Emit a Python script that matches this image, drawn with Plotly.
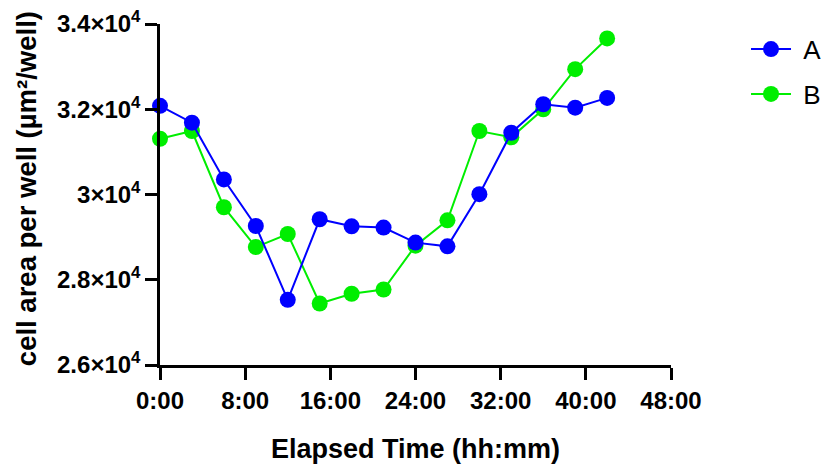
import plotly.graph_objects as go

hours = [0, 3, 6, 9, 12, 15, 18, 21, 24, 27, 30, 33, 36, 39, 42]
series_a = [32080, 31685, 30353, 29261, 27529, 29419, 29254, 29224, 28871, 28784, 30007, 31449, 32118, 32038, 32266]
series_b = [31308, 31489, 29701, 28767, 29073, 27442, 27671, 27772, 28800, 29395, 31489, 31341, 32000, 32941, 33661]

x_tickvals = [0, 8, 16, 24, 32, 40, 48]
x_ticktext = ["0:00", "8:00", "16:00", "24:00", "32:00", "40:00", "48:00"]
y_tickvals = [26000, 28000, 30000, 32000, 34000]
y_ticktext = ["2.6×10<sup>4</sup>", "2.8×10<sup>4</sup>", "3×10<sup>4</sup>", "3.2×10<sup>4</sup>", "3.4×10<sup>4</sup>"]
y_title = "cell area per well (µm²/well)"
x_title = "Elapsed Time (hh:mm)"

FONT = "Arial, 'Liberation Sans', sans-serif"
BLUE = "#0000ff"
GREEN = "#00ee00"

fig = go.Figure()
fig.add_trace(go.Scatter(x=hours, y=series_b, name="\u00a0B", mode="lines+markers",
                         line=dict(color=GREEN, width=2), marker=dict(color=GREEN, size=16),
                         legendrank=2, legendgroup="b", cliponaxis=False))
fig.add_trace(go.Scatter(x=hours, y=series_a, name="\u00a0A", mode="lines+markers",
                         line=dict(color=BLUE, width=2), marker=dict(color=BLUE, size=16),
                         legendrank=1, legendgroup="a", cliponaxis=False))

fig.update_layout(
    width=826, height=467,
    margin=dict(l=160, r=155, t=24, b=102, autoexpand=False),
    paper_bgcolor="white", plot_bgcolor="white",
    font=dict(family=FONT, color="black"),
    showlegend=True,
    legend=dict(x=1.1468, y=0.995, xanchor="left", yanchor="top",
                font=dict(family=FONT, size=26, color="black"),
                itemwidth=40, tracegroupgap=8, bgcolor="rgba(0,0,0,0)"),
    xaxis=dict(range=[0, 48], tickvals=x_tickvals, ticktext=x_ticktext, automargin=False,
               showgrid=False, zeroline=False, showline=True, linecolor="black", linewidth=2.5,
               ticks="outside", ticklen=12, tickwidth=2.5, tickcolor="black",
               tickfont=dict(family=FONT, size=24, weight="bold", color="black"),
               title=dict(text=x_title, standoff=27,
                          font=dict(family=FONT, size=27, weight="bold", color="black"))),
    yaxis=dict(range=[26000, 34000], tickvals=y_tickvals, ticktext=y_ticktext, automargin=False,
               showgrid=False, zeroline=False, showline=True, linecolor="black", linewidth=2.5,
               ticks="outside", ticklen=12, tickwidth=2.5, tickcolor="black",
               tickfont=dict(family=FONT, size=24, weight="bold", color="black")),
    annotations=[dict(text=y_title, textangle=-90, xref="paper", yref="paper",
                      x=-0.262, y=0.516, xanchor="center", yanchor="middle", showarrow=False,
                      font=dict(family=FONT, size=27.5, weight="bold", color="black"))],
)

fig.write_html("out.html")
